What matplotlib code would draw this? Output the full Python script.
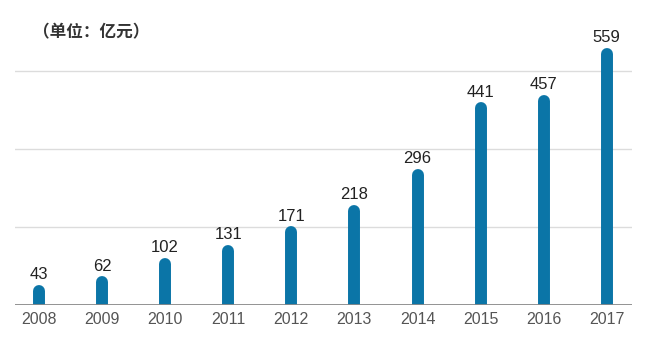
import matplotlib.pyplot as plt
import numpy as np

years = ['2008', '2009', '2010', '2011', '2012', '2013', '2014', '2015', '2016', '2017']
values = [43, 62, 102, 131, 171, 218, 296, 441, 457, 559]
grid_levels = [170, 340, 510]

bar_color = '#0b75a7'

W, H = 651, 351
fig = plt.figure(figsize=(W / 100, H / 100), dpi=100)
fig.patch.set_facecolor('white')

# axes box in pixels: left 15, right 632, bottom line at y=305, top at y=20
ax = fig.add_axes([15 / W, 46 / H, 617 / W, 285 / H])
ax.set_xlim(-0.38, 9.4)
ax.set_ylim(0, 620)
ax.set_facecolor('white')
for s in ax.spines.values():
    s.set_visible(False)

for g in grid_levels:
    ax.axhline(g, color='#dcdcdc', lw=1, zorder=0)
ax.axhline(0, color='#8a8a8a', lw=1.3, zorder=3)

x = np.arange(len(years))
lw_pt = 8.6
# round cap sticks out by half the line width, pull the line end back for it
cap_units = (lw_pt / 2) * (100 / 72) / (285 / 620)
tops = [v - cap_units for v in values]
ax.vlines(x, -50, tops, colors=bar_color, linewidth=lw_pt, capstyle='round', zorder=2)

for xi, v in zip(x, values):
    ax.annotate(str(v), (xi, v), xytext=(0, 2), textcoords='offset points',
                ha='center', va='bottom', fontsize=12, color='#222222',
                family='Liberation Sans')

ax.set_xticks(x)
ax.set_xticklabels(years, fontsize=11.5, color='#555555', family='Liberation Sans')
ax.tick_params(axis='x', length=0, pad=5)
ax.set_yticks([])

fig.text(33 / W, 1 - 32 / H, '（单位：亿元）', fontsize=12, fontweight='bold',
         color='#333333', family=['Noto Sans CJK SC', 'DejaVu Sans'], va='center', ha='left')

fig.savefig('out.png', dpi=100)
